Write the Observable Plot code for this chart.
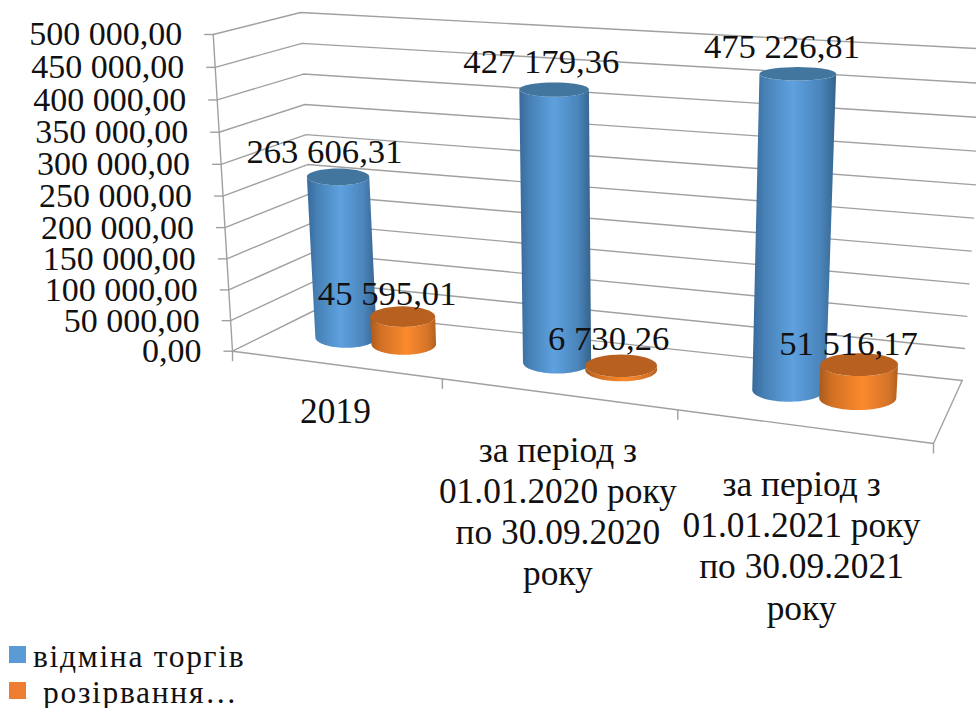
<!DOCTYPE html>
<html lang="uk">
<head>
<meta charset="utf-8">
<title>Відміна торгів і розірвання</title>
<script src="https://cdn.jsdelivr.net/npm/d3@7"></script>
<script src="https://cdn.jsdelivr.net/npm/@observablehq/plot@0.6"></script>
<style>
  html, body { margin: 0; padding: 0; background: #fff; overflow: hidden; }
  #chart svg { display: block; }
  #legend { font-family: "Liberation Serif", serif; font-size: 31.5px; letter-spacing: 1.7px; color: #111; line-height: 36px; padding-left: 9px; }
  #legend div { display: flex; align-items: center; height: 36px; }
  #legend i { display: inline-block; width: 17px; height: 17px; }
  #legend span { position: relative; top: 3px; }
</style>
</head>
<body>
<div id="chart"></div>
<div id="legend"></div>
<script>
// Values of the two series per period
const categories = [
  "2019",
  "за період з\n01.01.2020 року\nпо 30.09.2020\nроку",
  "за період з\n01.01.2021 року\nпо 30.09.2021\nроку"
];
const cancelled = [263606.31, 427179.36, 475226.81];
const terminated = [45595.01, 6730.26, 51516.17];
const seriesNames = ["відміна торгів", "розірвання…"];
const axisTicks = [0, 50000, 100000, 150000, 200000, 250000, 300000, 350000, 400000, 450000, 500000];

const W = 976, H = 636, VMAX = 500000;
const fmt = d3.formatLocale({decimal: ",", thousands: " ", grouping: [3]}).format(",.2f");

// Box corners of the 3D chart frame: front-left, front-right, back-right, back-left
const floorQuad = [[232, 350.7], [933, 443], [961.7, 380], [314, 310]];
const ceilQuad = [[212.7, 34], [956, 91], [985, 48.5], [300, 12]];

function squareToQuad([[x0, y0], [x1, y1], [x2, y2], [x3, y3]]) {
  const sx = x0 - x1 + x2 - x3, sy = y0 - y1 + y2 - y3;
  const dx1 = x1 - x2, dx2 = x3 - x2, dy1 = y1 - y2, dy2 = y3 - y2;
  const den = dx1 * dy2 - dx2 * dy1;
  const g = (sx * dy2 - dx2 * sy) / den, h = (dx1 * sy - sx * dy1) / den;
  const a = x1 - x0 + g * x1, b = x3 - x0 + h * x3;
  const d = y1 - y0 + g * y1, e = y3 - y0 + h * y3;
  return (u, v) => {
    const w = g * u + h * v + 1;
    return [(a * u + b * v + x0) / w, (d * u + e * v + y0) / w];
  };
}
const onFloor = squareToQuad(floorQuad), onCeil = squareToQuad(ceilQuad);
// Category boundaries along the foreshortened floor and ceiling planes
const alongFloor = d3.scaleLinear().domain([0, 1, 2, 3]).range([0, 0.363, 0.699, 1]);
const alongCeil = d3.scaleLinear().domain([0, 1, 2, 3]).range([0, 0.41, 0.736, 1]);

// Category position, value and depth to page position
function project(u, value, depth) {
  const t = value / VMAX, k = 0.96 * t / (1 - 0.04 * t);
  const [fx, fy] = onFloor(alongFloor(u), depth), [cx, cy] = onCeil(alongCeil(u), depth);
  return {x: fx + (cx - fx) * k, y: fy + (cy - fy) * k};
}

// Back wall, side wall and value gridlines
const gridLines = axisTicks.flatMap((v) => [
  {v, ...project(0, v, 0)}, {v, ...project(0, v, 1)}, {v, ...project(3, v, 1)}
]);
const floorEdge = [project(3, 0, 1), project(3, 0, 0), project(0, 0, 0)];
const sideAxis = [project(0, VMAX, 0), project(0, 0, 0)];
const valueTicks = axisTicks.map((v) => ({v, ...project(0, v, 0)}));
const catTicks = d3.range(4).map((u) => ({u, ...project(u, 0, 0)}));

// Cylinders: level ellipses stay horizontal, flatter the closer they are to the ceiling
const BAR_R = 0.155, BAR_OFF = 0.142, BAR_DEPTH = 0.52;
function ellipse(u, value) {
  const a = project(u - BAR_R, value, BAR_DEPTH), b = project(u + BAR_R, value, BAR_DEPTH);
  const k = value / VMAX;
  return {
    cx: (a.x + b.x) / 2, cy: (a.y + b.y) / 2, rx: (b.x - a.x) / 2,
    ry: (10.2 + 0.7 * u) * (1 - k) + 6.5 * k
  };
}
const arc = (e, from, to, n = 40) => d3.range(n + 1).map((i) => {
  const a = from + (to - from) * i / n;
  return {x: e.cx + e.rx * Math.cos(a), y: e.cy + e.ry * Math.sin(a)};
});
const bars = categories.flatMap((_, i) => [
  {u: i + 0.5 - BAR_OFF, value: cancelled[i], key: "blue"},
  {u: i + 0.5 + BAR_OFF, value: terminated[i], key: "orange"}
]);
const labelShift = [[-13, -25], [-15, -23], [-12, -28], [-12, -27], [-15, -27], [-10, -21]];
const labels = bars.map((b, i) => ({
  text: fmt(b.value),
  ...project(b.u, b.value, BAR_DEPTH),
  dx: labelShift[i][0], dy: labelShift[i][1]
}));
const catDrop = [29, 39, 41];
const catShift = [3, 3.5, 2];
const catLabels = categories.map((text, i) => {
  const p = project(i + 0.5, 0, 0);
  return {text, x: p.x + catShift[i], y: p.y + catDrop[i]};
});

const serif = "'Liberation Serif', serif";
const gridStroke = "#a0a0a0";
const topFill = {blue: "#42769f", orange: "#b8601f"};

// Horizontal shading of the cylinder bodies
function gradientDefs() {
  const g = d3.create("svg:g");
  const defs = g.append("defs");
  const stops = {
    blue: [[0, "#39699a"], [0.14, "#4680b5"], [0.48, "#5ea1df"], [0.82, "#4a84ba"], [1, "#35638c"]],
    orange: [[0, "#a85a1e"], [0.15, "#d06f24"], [0.55, "#fb8a2c"], [0.88, "#d5742a"], [1, "#b05f20"]]
  };
  for (const key in stops) {
    const lg = defs.append("linearGradient").attr("id", `body-${key}`).attr("x1", 0).attr("x2", 1).attr("y1", 0).attr("y2", 0);
    for (const [o, c] of stops[key]) lg.append("stop").attr("offset", o).attr("stop-color", c);
  }
  return g.node();
}

const barMarks = bars.flatMap((b) => {
  const base = ellipse(b.u, 0), top = ellipse(b.u, b.value);
  return [
    Plot.line([...arc(base, Math.PI, 0), ...arc(top, 0, Math.PI)],
      {x: "x", y: "y", fill: `url(#body-${b.key})`, stroke: "none"}),
    Plot.line(arc(top, 0, 2 * Math.PI),
      {x: "x", y: "y", fill: topFill[b.key], stroke: "none"})
  ];
});

const chart = Plot.plot({
  width: W, height: H,
  margin: 0,
  x: {domain: [0, W], range: [0, W], axis: null},
  y: {domain: [0, H], range: [0, H], axis: null},
  style: {background: "#fff", overflow: "hidden"},
  marks: [
    gradientDefs,
    Plot.line(gridLines, {x: "x", y: "y", z: "v", stroke: gridStroke, strokeWidth: 1.4}),
    Plot.line(floorEdge, {x: "x", y: "y", stroke: gridStroke, strokeWidth: 1.4}),
    Plot.line(sideAxis, {x: "x", y: "y", stroke: gridStroke, strokeWidth: 1.4}),
    Plot.link(valueTicks, {x1: (d) => d.x - 9, x2: "x", y1: "y", y2: "y", stroke: gridStroke, strokeWidth: 1.4}),
    Plot.link(catTicks, {x1: "x", x2: "x", y1: "y", y2: (d) => d.y + 10, stroke: gridStroke, strokeWidth: 1.4}),
    ...barMarks,
    Plot.text(valueTicks, {
      x: (d) => d.x - 31, y: "y", text: (d) => fmt(d.v), textAnchor: "end",
      fontFamily: serif, fontSize: 34, fill: "#111"
    }),
    Plot.text(labels, {
      x: (d) => d.x + d.dx, y: (d) => d.y + d.dy, text: "text",
      fontFamily: serif, fontSize: 34.7, fill: "#111"
    }),
    Plot.text(catLabels, {
      x: "x", y: "y", text: "text", lineHeight: 1.163, lineAnchor: "top",
      fontFamily: serif, fontSize: 35.4, fill: "#111"
    })
  ]
});
document.getElementById("chart").append(chart);

// Legend under the plot
const legendColors = ["#5b9bd5", "#ed7d31"];
const legend = d3.select("#legend");
seriesNames.forEach((name, i) => {
  const row = legend.append("div");
  row.append("i").style("background", legendColors[i]).style("margin-right", i ? "17px" : "7px");
  row.append("span").text(name);
});
</script>
</body>
</html>
